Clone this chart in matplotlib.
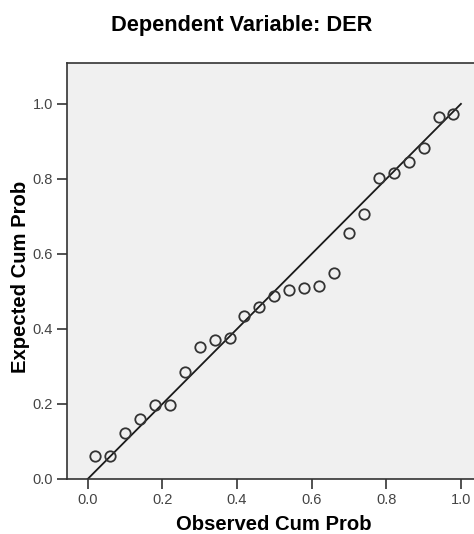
import matplotlib
matplotlib.use('Agg')
import matplotlib.pyplot as plt
import numpy as np

plt.rcParams['font.family'] = ['Liberation Sans', 'DejaVu Sans']

# observed vs expected cumulative probabilities
observed = [0.02, 0.06, 0.10, 0.14, 0.18, 0.22, 0.26, 0.30, 0.34, 0.38, 0.42, 0.46, 0.50,
            0.54, 0.58, 0.62, 0.66, 0.70, 0.74, 0.78, 0.82, 0.86, 0.90, 0.94, 0.98]
expected = [0.060, 0.062, 0.122, 0.159, 0.197, 0.197, 0.285, 0.352, 0.371, 0.377, 0.435,
            0.458, 0.488, 0.505, 0.509, 0.515, 0.550, 0.655, 0.707, 0.803, 0.816, 0.845,
            0.883, 0.965, 0.972]
ref_line = [0.0, 1.0]
ticks = [0.0, 0.2, 0.4, 0.6, 0.8, 1.0]
tick_labels = ['0.0', '0.2', '0.4', '0.6', '0.8', '1.0']

fig = plt.figure(figsize=(4.74, 5.34), dpi=100)
ax = fig.add_axes([67 / 474, 55 / 534, 1 - 67 / 474, (479 - 63) / 534])
ax.set_facecolor('#f0f0f0')

ax.plot(ref_line, ref_line, color='#1a1a1a', linewidth=1.3, zorder=2)
ax.plot(observed, expected, linestyle='none', marker='o', markersize=7.5,
        markerfacecolor='none', markeredgecolor='#333333', markeredgewidth=1.3, zorder=3)

ax.set_xlim(-0.0555, 1.035)
ax.set_ylim(0.0, 1.109)
ax.set_xticks(ticks)
ax.set_xticklabels(tick_labels)
ax.set_yticks(ticks)
ax.set_yticklabels(tick_labels)
ax.tick_params(direction='out', length=7.2, width=1.2, color='#333333',
               labelsize=10.5, labelcolor='#444444', pad=3)

ax.spines['right'].set_visible(False)
for side in ['left', 'top', 'bottom']:
    ax.spines[side].set_color('#333333')
    ax.spines[side].set_linewidth(1.2)

ax.set_xlabel('Observed Cum Prob', fontsize=14.6, fontweight='bold')
ax.set_ylabel('Expected Cum Prob', fontsize=14.6, fontweight='bold')
ax.xaxis.set_label_coords((274 - 67) / 407, -(525 - 479) / 416)
ax.yaxis.set_label_coords(-(67 - 20.5) / 407, (479 - 276.5) / 416)
ax.xaxis.label.set_va('center')
ax.yaxis.label.set_va('center')
fig.text((110 + 373) / 2 / 474, 1 - 25 / 534, 'Dependent Variable: DER', ha='center',
         va='center', fontsize=15.7, fontweight='bold')

fig.savefig('out.png', dpi=100)
